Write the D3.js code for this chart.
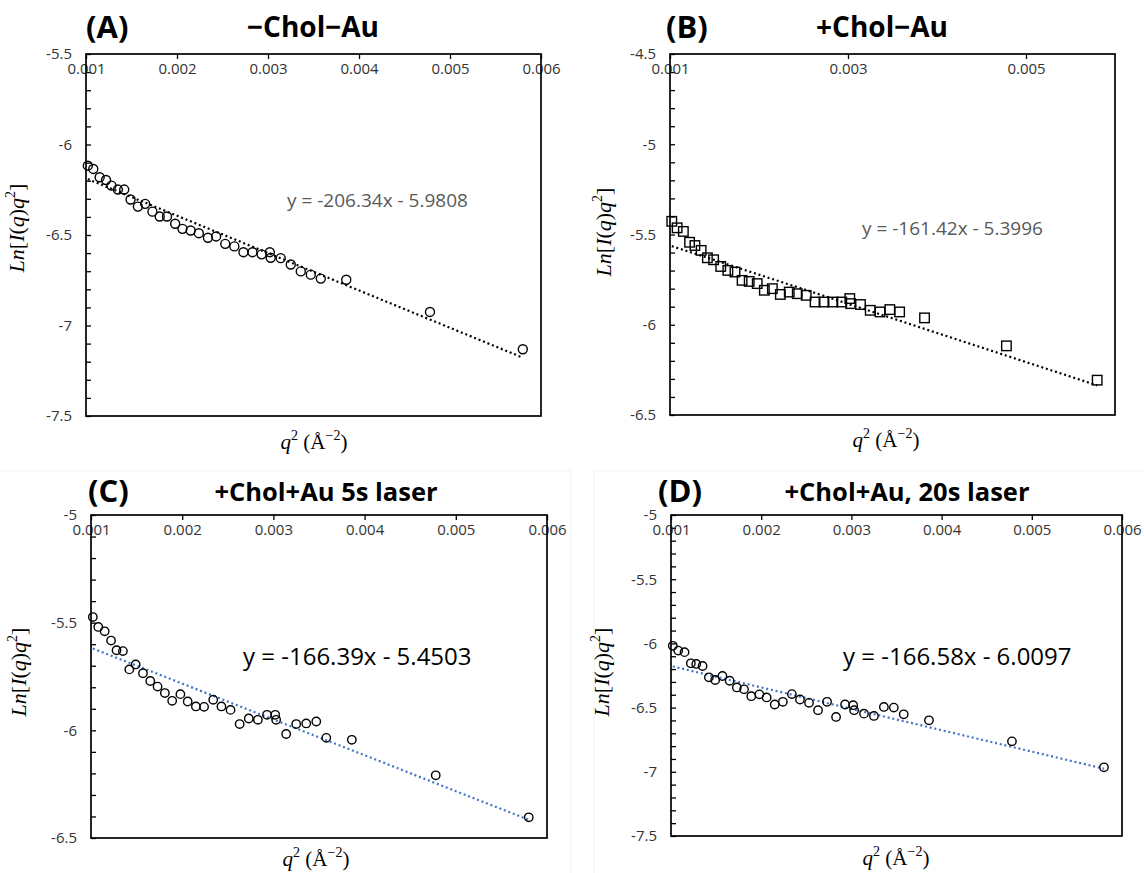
<!DOCTYPE html>
<html>
<head>
<meta charset="utf-8">
<script src="https://cdn.jsdelivr.net/npm/d3@7"></script>
<style>
  html, body { margin: 0; padding: 0; background: #fff; }
  svg { display: block; }
</style>
</head>
<body>
<script>
// ---------------- DATA ----------------
const q2 = [0.00102, 0.00108, 0.00115, 0.00122, 0.00128, 0.00135, 0.00142, 0.00149, 0.00157, 0.00165,
            0.00173, 0.00181, 0.00189, 0.00198, 0.00206, 0.00215, 0.00224, 0.00234, 0.00243, 0.00253,
            0.00263, 0.00273, 0.00283, 0.00293, 0.00302, 0.00303, 0.00314, 0.00325, 0.00336, 0.00347,
            0.00358, 0.00386, 0.00478, 0.00580];

const lnA = [-6.117, -6.135, -6.181, -6.196, -6.227, -6.249, -6.249, -6.304, -6.343, -6.328,
             -6.371, -6.398, -6.398, -6.438, -6.466, -6.475, -6.490, -6.515, -6.508, -6.549,
             -6.563, -6.595, -6.595, -6.607, -6.595, -6.626, -6.628, -6.663, -6.701, -6.719,
             -6.741, -6.747, -6.925, -7.131];

const lnB = [-5.427, -5.463, -5.483, -5.543, -5.561, -5.588, -5.629, -5.640, -5.677, -5.699,
             -5.708, -5.754, -5.760, -5.772, -5.809, -5.800, -5.832, -5.819, -5.828, -5.837,
             -5.874, -5.874, -5.874, -5.874, -5.855, -5.883, -5.888, -5.920, -5.929, -5.916,
             -5.929, -5.962, -6.117, -6.307];

const lnC = [-5.474, -5.520, -5.540, -5.583, -5.628, -5.632, -5.717, -5.694, -5.735, -5.771,
             -5.797, -5.827, -5.863, -5.832, -5.866, -5.889, -5.891, -5.858, -5.889, -5.905,
             -5.971, -5.945, -5.951, -5.928, -5.928, -5.951, -6.017, -5.971, -5.968, -5.959,
             -6.035, -6.044, -6.209, -6.404];

const lnD = [-6.019, -6.056, -6.068, -6.155, -6.160, -6.176, -6.264, -6.285, -6.254, -6.291,
             -6.343, -6.358, -6.411, -6.397, -6.421, -6.476, -6.455, -6.395, -6.437, -6.463,
             -6.520, -6.455, -6.573, -6.476, -6.481, -6.520, -6.547, -6.565, -6.495, -6.500,
             -6.552, -6.599, -6.763, -6.965];

const panelLetters = ["(A)", "(B)", "(C)", "(D)"];
const panelTitles  = ["\u2212Chol\u2212Au", "+Chol\u2212Au", "+Chol+Au 5s laser", "+Chol+Au, 20s laser"];
const fitSlopes     = [-206.34, -161.42, -166.39, -166.58];
const fitIntercepts = [-5.9808, -5.3996, -5.4503, -6.0097];
const fitLabels = ["y = -206.34x - 5.9808", "y = -161.42x - 5.3996", "y = -166.39x - 5.4503", "y = -166.58x - 6.0097"];

const xDomain = [0.001, 0.006];
const xTicksA = [0.001, 0.002, 0.003, 0.004, 0.005, 0.006];
const xTicksB = [0.001, 0.003, 0.005];
const xTicksC = [0.001, 0.002, 0.003, 0.004, 0.005, 0.006];
const xTicksD = [0.001, 0.002, 0.003, 0.004, 0.005, 0.006];

const yDomainA = [-7.5, -5.5], yTicksA = [-5.5, -6, -6.5, -7, -7.5];
const yDomainB = [-6.5, -4.5], yTicksB = [-4.5, -5, -5.5, -6, -6.5];
const yDomainC = [-6.5, -5.0], yTicksC = [-5, -5.5, -6, -6.5];
const yDomainD = [-7.5, -5.0], yTicksD = [-5, -5.5, -6, -6.5, -7, -7.5];
const yMinorStep = 0.1;

// ---------------- LAYOUT / STYLE ----------------
const W = 1144, H = 873;
const FONT = "'Open Sans', 'Noto Sans', sans-serif";
const SERIF = "'Liberation Serif', 'DejaVu Serif', serif";

const panels = [
  { ys: lnA, xt: xTicksA, yd: yDomainA, yt: yTicksA, l: 86,  r: 541,  t: 54,  b: 416, marker: "circle", fitColor: "#000", eqColor: "#595959", eqSize: 19, eqX: 287, eqY: 207, ylx: 24,  yly: 228, xlx: 314, xly: 449, letterX: 86,  titleX: 313, titleY: 38, titleSize: 28 },
  { ys: lnB, xt: xTicksB, yd: yDomainB, yt: yTicksB, l: 670, r: 1115, t: 54,  b: 415, marker: "square", fitColor: "#000", eqColor: "#595959", eqSize: 19, eqX: 862, eqY: 235, ylx: 611, yly: 232, xlx: 886, xly: 447, letterX: 666, titleX: 882, titleY: 38, titleSize: 28 },
  { ys: lnC, xt: xTicksC, yd: yDomainC, yt: yTicksC, l: 91,  r: 547,  t: 515, b: 838, marker: "circle", fitColor: "#4472C4", eqColor: "#000", eqSize: 24, eqX: 243, eqY: 665, ylx: 26,  yly: 672, xlx: 316, xly: 866, letterX: 88,  titleX: 326, titleY: 502, titleSize: 25.5 },
  { ys: lnD, xt: xTicksD, yd: yDomainD, yt: yTicksD, l: 671, r: 1122, t: 515, b: 836, marker: "circle", fitColor: "#4472C4", eqColor: "#000", eqSize: 24, eqX: 843, eqY: 665, ylx: 609, yly: 672, xlx: 896, xly: 865, letterX: 658, titleX: 907, titleY: 502, titleSize: 25.5 }
];

const svg = d3.select("body").append("svg")
  .attr("width", W).attr("height", H)
  .attr("viewBox", `0 0 ${W} ${H}`);

svg.append("rect").attr("width", W).attr("height", H).attr("fill", "#fff");

// very faint chart-area borders of the lower charts
svg.append("rect").attr("x", -2).attr("y", 471).attr("width", 573).attr("height", 410)
  .attr("fill", "none").attr("stroke", "#f4f4f4").attr("stroke-width", 1);
svg.append("rect").attr("x", 594).attr("y", 471).attr("width", 560).attr("height", 410)
  .attr("fill", "none").attr("stroke", "#f4f4f4").attr("stroke-width", 1);

panels.forEach((p, i) => {
  const g = svg.append("g");
  const x = d3.scaleLinear().domain(xDomain).range([p.l, p.r]);
  const y = d3.scaleLinear().domain(p.yd).range([p.b, p.t]);

  // minor y ticks (inward)
  const minor = d3.range(Math.round((p.yd[1] - p.yd[0]) / yMinorStep) + 1).map(k => p.yd[0] + k * yMinorStep);
  const yMinorAxis = d3.axisLeft(y).tickValues(minor).tickSizeInner(-5).tickSizeOuter(0).tickFormat("");
  g.append("g").attr("transform", `translate(${p.l},0)`).call(yMinorAxis)
    .call(s => s.select(".domain").remove())
    .call(s => s.selectAll(".tick line").attr("stroke", "#000").attr("stroke-width", 1.3));

  // y labels
  const yLabelAxis = d3.axisLeft(y).tickValues(p.yt).tickSize(0).tickPadding(14).tickFormat(d => String(d));
  g.append("g").attr("transform", `translate(${p.l},0)`).call(yLabelAxis)
    .call(s => s.select(".domain").remove())
    .call(s => s.selectAll("text").attr("font-family", FONT).attr("font-size", 15).attr("fill", "#333"));

  // x axis at top, labels below the line (inside)
  const xAxis = d3.axisBottom(x).tickValues(p.xt).tickSizeInner(5).tickSizeOuter(0).tickPadding(4)
    .tickFormat(d3.format(".3f"));
  g.append("g").attr("transform", `translate(0,${p.t})`).call(xAxis)
    .call(s => s.select(".domain").remove())
    .call(s => s.selectAll(".tick line").attr("stroke", "#000").attr("stroke-width", 1.3))
    .call(s => s.selectAll("text").attr("font-family", FONT).attr("font-size", 15).attr("fill", "#333"));

  // frame
  g.append("rect").attr("x", p.l).attr("y", p.t).attr("width", p.r - p.l).attr("height", p.b - p.t)
    .attr("fill", "none").attr("stroke", "#000").attr("stroke-width", 1.7);

  // fit line
  const fx = [q2[0], q2[q2.length - 1]];
  g.append("path")
    .attr("d", d3.line().x(d => x(d)).y(d => y(fitSlopes[i] * d + fitIntercepts[i]))(fx))
    .attr("fill", "none").attr("stroke", p.fitColor).attr("stroke-width", 2.2)
    .attr("stroke-dasharray", "2,2.8");

  // markers
  const pts = q2.map((q, k) => ({ q, v: p.ys[k] }));
  if (p.marker === "circle") {
    g.selectAll("circle.pt").data(pts).enter().append("circle").attr("class", "pt")
      .attr("cx", d => x(d.q)).attr("cy", d => y(d.v)).attr("r", i < 2 ? 4.5 : 4.2)
      .attr("fill", "none").attr("stroke", "#000").attr("stroke-width", 1.4);
  } else {
    const s = 9.5;
    g.selectAll("rect.pt").data(pts).enter().append("rect").attr("class", "pt")
      .attr("x", d => x(d.q) - s / 2).attr("y", d => y(d.v) - s / 2).attr("width", s).attr("height", s)
      .attr("fill", "none").attr("stroke", "#000").attr("stroke-width", 1.4);
  }

  // equation
  g.append("text").attr("x", p.eqX).attr("y", p.eqY).text(fitLabels[i])
    .attr("font-family", FONT).attr("font-size", p.eqSize).attr("fill", p.eqColor);

  // titles
  g.append("text").attr("x", p.letterX).attr("y", p.titleY).text(panelLetters[i])
    .attr("font-family", FONT).attr("font-weight", 700).attr("font-size", 31).attr("fill", "#000");
  g.append("text").attr("x", p.titleX).attr("y", p.titleY - 1).attr("text-anchor", "middle").text(panelTitles[i])
    .attr("font-family", FONT).attr("font-weight", 700).attr("font-size", p.titleSize).attr("fill", "#000");

  // y axis title
  const yl = g.append("text").attr("transform", `translate(${p.ylx},${p.yly}) rotate(-90)`)
    .attr("text-anchor", "middle").attr("font-family", SERIF).attr("font-size", 22).attr("fill", "#000");
  yl.append("tspan").attr("font-style", "italic").text("Ln");
  yl.append("tspan").text("[");
  yl.append("tspan").attr("font-style", "italic").text("I");
  yl.append("tspan").text("(");
  yl.append("tspan").attr("font-style", "italic").text("q");
  yl.append("tspan").text(")");
  yl.append("tspan").attr("font-style", "italic").text("q");
  yl.append("tspan").attr("font-size", 14).attr("dy", -9).text("2");
  yl.append("tspan").attr("dy", 9).text("]");

  // x axis title
  const xl = g.append("text").attr("x", p.xlx).attr("y", p.xly).attr("text-anchor", "middle")
    .attr("font-family", SERIF).attr("font-size", 21).attr("fill", "#000");
  xl.append("tspan").attr("font-style", "italic").text("q");
  xl.append("tspan").attr("font-size", 14).attr("dy", -9).text("2");
  xl.append("tspan").attr("dy", 9).text("\u00a0(\u00c5");
  xl.append("tspan").attr("font-size", 14).attr("dy", -9).text("\u22122");
  xl.append("tspan").attr("dy", 9).text(")");
});
</script>
</body>
</html>
